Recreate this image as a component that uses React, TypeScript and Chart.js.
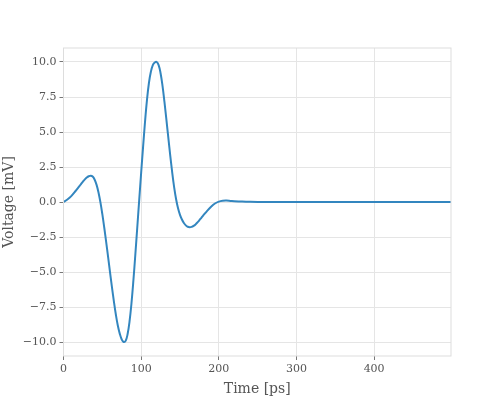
import { useEffect, useRef } from "react";
import { Chart, registerables } from "chart.js";

Chart.register(...registerables);

// time in ps, voltage in mV
const timePs = [
  0, 5, 10, 15,
  20, 22.5, 25, 27.5, 30, 32.5, 35, 37.5, 40, 42.5,
  45, 47.5, 50, 52.5, 55, 57.5, 60, 62.5, 65, 67.5,
  70, 72.5, 75, 77.5, 80, 82.5, 85, 87.5, 90, 92.5,
  95, 97.5, 100, 102.5, 105, 107.5, 110, 112.5, 115, 117.5,
  120, 122.5, 125, 127.5, 130, 132.5, 135, 137.5, 140, 142.5,
  145, 147.5, 150, 152.5, 155, 157.5, 160, 162.5, 165, 167.5,
  170, 172.5, 175, 177.5, 180,
  185, 190, 195, 200, 205, 210, 215, 220,
  230, 240, 250, 300, 350, 400, 450, 499,
];

const voltageMv = [
  0.0, 0.18, 0.42, 0.75,
  1.1, 1.28, 1.46, 1.62, 1.75, 1.84, 1.88, 1.82, 1.61, 1.24,
  0.7, -0.01, -0.87, -1.84, -2.88, -3.96, -5.06, -6.13, -7.15, -8.07,
  -8.84, -9.42, -9.82, -10.0, -9.92, -9.45, -8.55, -7.25, -5.6, -3.75,
  -1.8, 0.15, 2.1, 3.95, 5.75, 7.3, 8.5, 9.3, 9.78, 9.96,
  10.0, 9.78, 9.2, 8.3, 7.15, 5.88, 4.58, 3.3, 2.1, 1.05,
  0.2, -0.45, -0.92, -1.25, -1.5, -1.67, -1.77, -1.8, -1.78, -1.71,
  -1.6, -1.46, -1.3, -1.13, -0.96,
  -0.63, -0.34, -0.11, 0.03, 0.09, 0.1, 0.08, 0.06,
  0.03, 0.01, 0.0, 0.0, 0.0, 0.0, 0.0, 0.0,
];

const xTicks = [0, 100, 200, 300, 400];
const yTicks = [-10, -7.5, -5, -2.5, 0, 2.5, 5, 7.5, 10];

const FONT = "'DejaVu Serif', serif";
const TEXT = "#555555";
const GRID = "#e5e5e5";

const framePlugin = {
  id: "frame",
  afterDraw(chart: Chart) {
    const { ctx, chartArea } = chart;
    ctx.save();
    ctx.strokeStyle = "#dddddd";
    ctx.lineWidth = 1;
    ctx.strokeRect(
      chartArea.left,
      chartArea.top,
      chartArea.right - chartArea.left,
      chartArea.bottom - chartArea.top
    );
    ctx.restore();
  },
};

// matplotlib-style labels: unicode minus sign
const fmtX = (v: number) => String(v).replace("-", "\u2212");
const fmtY = (v: number) => v.toFixed(1).replace("-", "\u2212");

export default function App() {
  const canvasRef = useRef<HTMLCanvasElement>(null);
  const chartRef = useRef<Chart | null>(null);

  useEffect(() => {
    const canvas = canvasRef.current;
    if (!canvas) return;
    const ctx = canvas.getContext("2d");
    if (!ctx) return;

    if (chartRef.current) chartRef.current.destroy();

    chartRef.current = new Chart(ctx, {
      type: "line",
      data: {
        datasets: [
          {
            label: "Voltage",
            data: timePs.map((t, i) => ({ x: t, y: voltageMv[i] })),
            borderColor: "#3386bf",
            borderWidth: 2,
            pointRadius: 0,
            fill: false,
            tension: 0.4,
          },
        ],
      },
      options: {
        animation: false,
        responsive: false,
        maintainAspectRatio: false,
        layout: { padding: { top: 48, right: 49, bottom: 2, left: 1 } },
        plugins: {
          legend: { display: false },
          tooltip: { enabled: false },
        },
        scales: {
          x: {
            type: "linear",
            min: 0,
            max: 499,
            afterBuildTicks(scale) {
              scale.ticks = xTicks.map((value) => ({ value }));
            },
            grid: { color: GRID, tickColor: "#777777", tickLength: 4 },
            border: { display: false },
            ticks: {
              color: TEXT,
              font: { family: FONT, size: 11 },
              padding: 3,
              maxRotation: 0,
              callback: (v) => fmtX(Number(v)),
            },
            title: {
              display: true,
              text: "Time [ps]",
              color: TEXT,
              font: { family: FONT, size: 14 },
              padding: { top: 2, bottom: 0 },
            },
          },
          y: {
            type: "linear",
            min: -11,
            max: 11,
            afterBuildTicks(scale) {
              scale.ticks = yTicks.map((value) => ({ value }));
            },
            grid: { color: GRID, tickColor: "#777777", tickLength: 4 },
            border: { display: false },
            ticks: {
              color: TEXT,
              font: { family: FONT, size: 11 },
              padding: 3,
              callback: (v) => fmtY(Number(v)),
            },
            title: {
              display: true,
              text: "Voltage [mV]",
              color: TEXT,
              font: { family: FONT, size: 14 },
              padding: { top: 0, bottom: 2 },
            },
          },
        },
      },
      plugins: [framePlugin],
    });

    return () => {
      chartRef.current?.destroy();
      chartRef.current = null;
    };
  }, []);

  return (
    <div style={{ position: "fixed", left: 0, top: 0, width: 500, height: 400, background: "#fff" }}>
      <canvas
        ref={canvasRef}
        width={500}
        height={400}
        style={{ width: 500, height: 400 }}
        role="img"
        aria-label="Voltage in mV against time in ps"
      />
    </div>
  );
}
